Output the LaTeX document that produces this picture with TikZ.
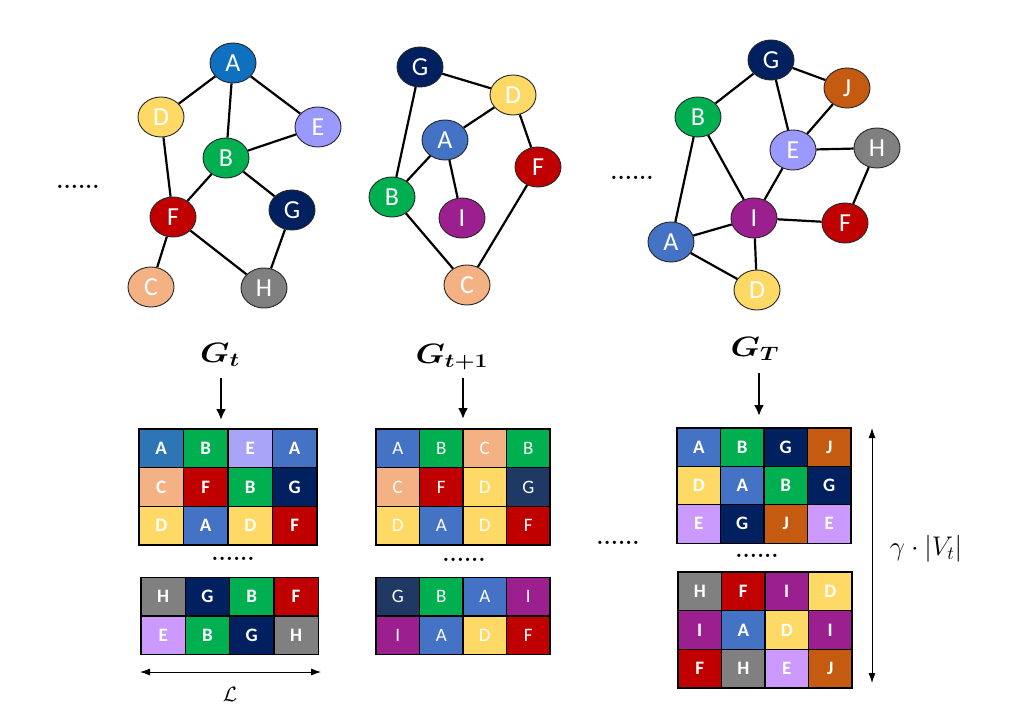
\documentclass[tikz,border=0pt]{standalone}
\usepackage{fontspec}
\usepackage{amsmath,bm}
\usetikzlibrary{shapes.geometric,arrows.meta}
\newfontfamily\calib{Carlito}
\definecolor{cAd}{HTML}{1070C0}
\definecolor{cAm}{HTML}{2E75B6}
\definecolor{cA}{HTML}{4472C4}
\definecolor{cB}{HTML}{00B050}
\definecolor{cC}{HTML}{F4B183}
\definecolor{cD}{HTML}{FFD966}
\definecolor{cE}{HTML}{9999FF}
\definecolor{cEm}{HTML}{A9A4F8}
\definecolor{cEl}{HTML}{CC99FF}
\definecolor{cF}{HTML}{C00000}
\definecolor{cG}{HTML}{002060}
\definecolor{cGl}{HTML}{203864}
\definecolor{cH}{HTML}{808080}
\definecolor{cI}{HTML}{9B1F8E}
\definecolor{cJ}{HTML}{C55A11}
\tikzset{
  gnode/.style={ellipse, draw=black!85, line width=0.9pt, minimum width=46pt,
    minimum height=40pt, inner sep=0pt, text=white,
    font=\calib\fontsize{26}{26}\selectfont},
  edge/.style={line width=2.2pt, black},
  cell/.style={draw=black, line width=1.2pt, minimum height=38.6pt,
    inner sep=0pt, text=white, font=\calib\bfseries\fontsize{19}{19}\selectfont},
  cellreg/.style={cell, font=\calib\fontsize{19}{19}\selectfont},
  dots/.style={inner sep=0pt, font=\bfseries\fontsize{23}{23}\selectfont},
  bigarrow/.style={line width=2.4pt, -{Latex[length=11pt,width=10pt]}},
  dimarrow/.style={line width=0.8pt, {Latex[length=10pt,width=7pt]}-{Latex[length=10pt,width=7pt]}},
  glabel/.style={inner sep=0pt, anchor=base, font=\fontsize{20.74}{20.74}\selectfont},
}
% #1 name prefix, #2 left x, #3 y centre, #4 cell width, #5 style, #6 list
\newcommand\cellrow[6]{%
  \foreach \lab/\col [count=\i] in {#6}{%
    \node[#5, fill=\col, minimum width=#4pt] (#1-\i) at ({#2+(\i-0.5)*#4}, #3) {\lab};}}
\begin{document}
\begin{tikzpicture}[x=1pt,y=-1pt]
\useasboundingbox (0,0) rectangle (1017,720);
\fill[white] (0,0) rectangle (1017,720);

% ---------- graph 1 ----------
\node[gnode, fill=cAd] (a1) at (233,63) {A};
\node[gnode, fill=cD] (d1) at (161,117) {D};
\node[gnode, fill=cE] (e1) at (318,127) {E};
\node[gnode, fill=cB] (b1) at (226,158) {B};
\node[gnode, fill=cF] (f1) at (173,217) {F};
\node[gnode, fill=cG] (g1) at (292,210) {G};
\node[gnode, fill=cC] (c1) at (151,287) {C};
\node[gnode, fill=cH] (h1) at (264,288) {H};
\draw[edge] (a1) -- (d1);
\draw[edge] (a1) -- (b1);
\draw[edge] (a1) -- (e1);
\draw[edge] (b1) -- (e1);
\draw[edge] (b1) -- (f1);
\draw[edge] (b1) -- (g1);
\draw[edge] (d1) -- (f1);
\draw[edge] (f1) -- (c1);
\draw[edge] (f1) -- (h1);
\draw[edge] (g1) -- (h1);
\node[dots] (dl1) at (78,187) {......};

% ---------- graph 2 ----------
\node[gnode, fill=cG] (g2) at (420,67) {G};
\node[gnode, fill=cD] (d2) at (513,95) {D};
\node[gnode, fill=cA] (a2) at (445,140) {A};
\node[gnode, fill=cF] (f2) at (538,167) {F};
\node[gnode, fill=cB] (b2) at (392,197) {B};
\node[gnode, fill=cI] (i2) at (462,218) {I};
\node[gnode, fill=cC] (c2) at (467,285) {C};
\draw[edge] (g2) -- (d2);
\draw[edge] (g2) -- (b2);
\draw[edge] (d2) -- (a2);
\draw[edge] (d2) -- (f2);
\draw[edge] (a2) -- (b2);
\draw[edge] (a2) -- (i2);
\draw[edge] (b2) -- (c2);
\draw[edge] (f2) -- (c2);

% ---------- graph 3 ----------
\node[gnode, fill=cG] (g3) at (771,60) {G};
\node[gnode, fill=cJ] (j3) at (847,88) {J};
\node[gnode, fill=cB] (b3) at (698,117) {B};
\node[gnode, fill=cE] (e3) at (793,150) {E};
\node[gnode, fill=cH] (h3) at (877,148) {H};
\node[gnode, fill=cI] (i3) at (754,218) {I};
\node[gnode, fill=cF] (f3) at (845,223) {F};
\node[gnode, fill=cA] (a3) at (671,242) {A};
\node[gnode, fill=cD] (d3) at (757,290) {D};
\draw[edge] (g3) -- (b3);
\draw[edge] (g3) -- (j3);
\draw[edge] (g3) -- (e3);
\draw[edge] (j3) -- (e3);
\draw[edge] (e3) -- (h3);
\draw[edge] (e3) -- (i3);
\draw[edge] (b3) -- (i3);
\draw[edge] (b3) -- (a3);
\draw[edge] (a3) -- (i3);
\draw[edge] (i3) -- (f3);
\draw[edge] (i3) -- (d3);
\draw[edge] (a3) -- (d3);
\draw[edge] (h3) -- (f3);
\node[dots] (dl3) at (632,178) {......};

% ---------- labels and arrows ----------
\node[glabel] (lt) at (220,362) {\scalebox{1.6}[1.35]{$\bm{G_t}$}};
\node[glabel] (lt1) at (452,363) {\scalebox{1.6}[1.35]{$\bm{G_{t+1}}$}};
\node[glabel] (lT) at (755,356) {\scalebox{1.6}[1.35]{$\bm{G_T}$}};
\coordinate (s1) at (221,378); \coordinate (e1a) at (221,420);
\coordinate (s2) at (463,378); \coordinate (e2a) at (463,419);
\coordinate (s3) at (759,373); \coordinate (e3a) at (759,416);
\draw[bigarrow] (s1) -- (e1a);
\draw[bigarrow] (s2) -- (e2a);
\draw[bigarrow] (s3) -- (e3a);

% ---------- walk tables ----------
% table 1
\cellrow{t1a}{139}{448.3}{44.5}{cell}{A/cAm, B/cB, E/cEm, A/cA}
\cellrow{t1b}{139}{487}{44.5}{cell}{C/cC, F/cF, B/cB, G/cG}
\cellrow{t1c}{139}{525.7}{44.5}{cell}{D/cD, A/cA, D/cD, F/cF}
\node[dots] (dt1) at (233,559) {......};
\cellrow{t1d}{141}{596.5}{44.3}{cell}{H/cH, G/cG, B/cB, F/cF}
\cellrow{t1e}{141}{635.5}{44.3}{cell}{E/cEl, B/cB, G/cG, H/cH}
% table 2
\cellrow{t2a}{376}{448.3}{43.5}{cellreg}{A/cA, B/cB, C/cC, B/cB}
\cellrow{t2b}{376}{487}{43.5}{cellreg}{C/cC, F/cF, D/cD, G/cGl}
\cellrow{t2c}{376}{525.7}{43.5}{cellreg}{D/cD, A/cA, D/cD, F/cF}
\node[dots] (dt2) at (464,560) {......};
\cellrow{t2d}{376}{596.5}{43.5}{cellreg}{G/cGl, B/cB, A/cA, I/cI}
\cellrow{t2e}{376}{635.5}{43.5}{cellreg}{I/cI, A/cA, D/cD, F/cF}
% table 3
\cellrow{t3a}{677}{447.2}{43.5}{cell}{A/cA, B/cB, G/cG, J/cJ}
\cellrow{t3b}{677}{485.5}{43.5}{cell}{D/cD, A/cA, B/cB, G/cG}
\cellrow{t3c}{677}{523.8}{43.5}{cell}{E/cEl, G/cG, J/cJ, E/cEl}
\node[dots] (dt3) at (757,556) {......};
\node[dots] (dmid) at (618,543) {......};
\cellrow{t3d}{678}{591.3}{43.5}{cell}{H/cH, F/cF, I/cI, D/cD}
\cellrow{t3e}{678}{630}{43.5}{cell}{I/cI, A/cA, D/cD, I/cI}
\cellrow{t3f}{678}{668.7}{43.5}{cell}{F/cF, H/cH, E/cEl, J/cJ}

% ---------- dimension arrows ----------
\coordinate (Ll) at (140,672); \coordinate (Lr) at (321,672);
\draw[dimarrow] (Ll) -- (Lr);
\node[inner sep=0pt, anchor=base, font=\fontsize{20.74}{20.74}\selectfont] (Llab) at (230,701) {$\mathcal{L}$};
\coordinate (Vt) at (872,428); \coordinate (Vb) at (872,683);
\draw[dimarrow] (Vt) -- (Vb);
\node[inner sep=0pt, anchor=base, font=\fontsize{20.74}{20.74}\selectfont] (Vlab) at (926,555) {\scalebox{1.3}{$\gamma\cdot|V_t|$}};
\end{tikzpicture}
\end{document}
